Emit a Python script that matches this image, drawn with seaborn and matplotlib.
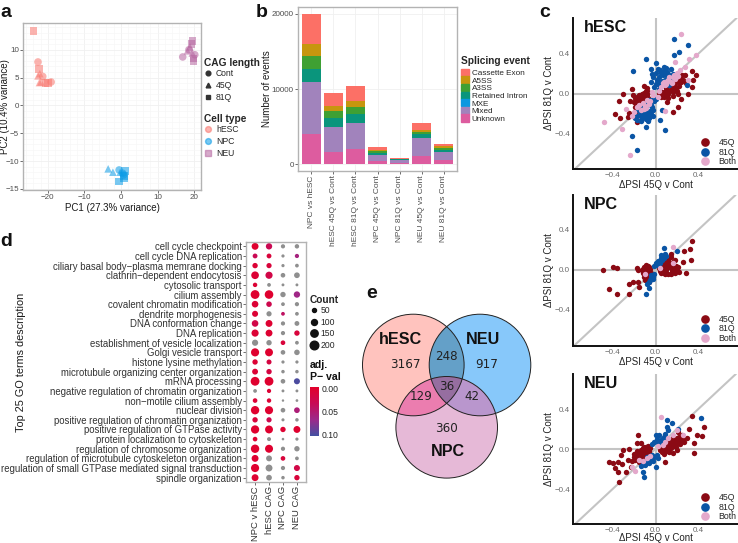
import matplotlib
matplotlib.use("Agg")
import matplotlib.pyplot as plt
from matplotlib.lines import Line2D
from matplotlib.patches import Patch, Circle
from matplotlib.colors import LinearSegmentedColormap, Normalize
from matplotlib.cm import ScalarMappable
import numpy as np
import pandas as pd
import seaborn as sns

# panel a
pca_x = [-23.9, -22.7, -22.5, -21.4, -22.7, -22.3, -19.1, -19.9, -20.6, -21.9, -22.2,
         -3.5, -2.2, -0.5, 1.1, 0.9, -0.5, 0.5, 0.9, -0.2, 0.7,
         19.6, 16.9, 19.8, 20.2, 18.6, 19.3, 18.9, 19.5, 18.2, 19.9]
pca_y = [13.4, 7.8, 6.5, 5.2, 5.3, 4.1, 4.2, 4.0, 4.0, 4.2, 5.7,
         -11.4, -12.0, -11.6, -11.8, -12.7, -13.7, -12.2, -13.1, -12.0, -12.5,
         11.6, 8.7, 8.0, 9.1, 10.0, 11.0, 10.5, 9.4, 9.8, 8.4]
pca_cell = ["hESC"] * 11 + ["NPC"] * 10 + ["NEU"] * 10
pca_cag = ["81Q", "Cont", "81Q", "Cont", "45Q", "45Q", "Cont", "81Q", "81Q", "45Q", "45Q",
           "45Q", "45Q", "Cont", "81Q", "81Q", "81Q", "Cont", "81Q", "45Q", "Cont",
           "81Q", "Cont", "81Q", "Cont", "Cont", "81Q", "45Q", "45Q", "45Q", "81Q"]
cell_colors = {"hESC": "#F8766D", "NPC": "#0A9BE6", "NEU": "#B5649F"}
cag_markers = {"Cont": "o", "45Q": "^", "81Q": "s"}

# panel b
comparisons = ["NPC vs hESC", "hESC 45Q vs Cont", "hESC 81Q vs Cont", "NPC 45Q vs Cont",
               "NPC 81Q vs Cont", "NEU 45Q vs Cont", "NEU 81Q vs Cont"]
unknown = [3990, 1640, 2000, 400, 180, 1100, 620]
mixed = [6910, 3370, 3500, 890, 350, 2400, 1060]
mxe = [40, 20, 20, 8, 4, 15, 10]
retained = [1700, 1170, 1170, 252, 126, 475, 260]
a3ss = [1760, 930, 980, 220, 50, 350, 220]
a5ss = [1600, 670, 790, 130, 40, 260, 310]
cassette = [4000, 1680, 1950, 360, 90, 940, 180]
event_names = ["Cassette Exon", "A5SS", "A3SS", "Retained Intron", "MXE", "Mixed", "Unknown"]
event_values = [cassette, a5ss, a3ss, retained, mxe, mixed, unknown]
event_colors = ["#FC7066", "#C7960E", "#3FA033", "#0A957C", "#0A98E0", "#A183BC", "#DD5C9F"]

# panel d
go_terms = ["cell cycle checkpoint", "cell cycle DNA replication",
            "ciliary basal body\u2212plasma memrane docking", "clathrin\u2212dependent endocytosis",
            "cytosolic transport", "cilium assembly", "covalent chromatin modification",
            "dendrite morphogenesis", "DNA conformation change", "DNA replication",
            "establishment of vesicle localization", "Golgi vesicle transport",
            "histone lysine methylation", "microtubule organizing center organization",
            "mRNA processing", "negative regulation of chromatin organization",
            "non\u2212motile cilium assembly", "nuclear division",
            "positive regulation of chromatin organization", "positive regulation of GTPase activity",
            "protein localization to cytoskeleton", "regulation of chromosome organization",
            "regulation of microtubule cytoskeleton organization",
            "regulation of small GTPase mediated signal transduction", "spindle organization"]
go_groups = ["NPC v hESC", "hESC CAG", "NPC CAG", "NEU CAG"]
count_npc_hesc = [120, 55, 70, 150, 45, 200, 110, 90, 110, 130, 95, 170, 70, 85, 200, 30, 50, 180, 70, 175, 50, 180, 120, 170, 120]
count_hesc = [100, 55, 65, 130, 30, 190, 75, 65, 120, 120, 70, 160, 60, 70, 200, 40, 45, 170, 65, 160, 35, 165, 85, 120, 80]
count_npc = [40, 20, 20, 50, 15, 70, 30, 30, 40, 40, 50, 50, 20, 25, 50, 15, 8, 50, 18, 70, 10, 40, 50, 40, 25]
count_neu = [45, 40, 30, 80, 15, 100, 40, 30, 55, 70, 30, 75, 20, 25, 90, 15, 12, 80, 25, 120, 20, 70, 30, 90, 70]
# None means not significant, drawn grey
p_npc_hesc = [0.0, 0.03, 0.005, 0.005, 0.005, 0.0, 0.005, 0.005, 0.02, 0.005, None, 0.0, 0.005, 0.005, 0.0, None, 0.005, 0.0, 0.01, 0.0, 0.002, 0.0, 0.002, 0.0, 0.002]
p_hesc = [0.03, 0.01, 0.01, 0.02, None, 0.0, 0.025, None, 0.002, 0.002, None, 0.0, 0.015, 0.015, 0.0, 0.005, 0.005, 0.0, 0.025, 0.0, None, 0.0, None, None, None]
p_npc = [None, None, None, None, None, None, None, 0.04, None, None, 0.01, None, None, None, None, None, None, None, None, 0.002, None, None, 0.01, None, None]
p_neu = [None, 0.06, None, None, None, 0.065, None, None, None, 0.01, None, None, None, None, 0.1, None, None, 0.055, None, 0.0, None, None, None, 0.02, 0.01]

# panel e
venn_names = ["hESC", "NEU", "NPC"]
venn_colors = ["#FFC3BE", "#87C8FA", "#E6B9D7"]
venn_counts = [3167, 917, 360, 248, 129, 42, 36]
overlap_colors = {"hESC_NEU": "#64A0C8", "hESC_NPC": "#EB7DAF", "NEU_NPC": "#B996CD", "all": "#966EA0"}

# panel c
hesc_45_x = [-.30, -.34, -.375, -.335, -.22, -.21, -.235, -.245, -.26, -.14, -.17, -.105, -.08, -.20, -.19, -.18, -.17, -.16, -.15, -.14, -.13, -.12, -.11, -.10, -.09, -.08, -.07, -.19, -.17, -.15, -.13, -.11, -.09, -.07, -.16, -.14, -.12, -.10, -.08, -.18, -.15, -.12,
             .34, .375, .35, .34, .30, .21, .235, .21, .16, .105, .05, .245, .275, .06, .08, .10, .12, .14, .16, .18, .20, .22, .24, .07, .09, .11, .13, .15, .17, .19, .21, .23, .08, .10, .12, .14, .16, .18, .20, .03, .05, .26, .28]
hesc_45_y = [0, -.07, -.2, -.24, .05, -.01, -.07, -.19, -.23, -.26, -.28, .08, .06, -.08, -.04, -.10, -.03, -.12, -.02, -.09, 0, -.05, .01, -.03, .03, -.01, .02, -.13, -.07, -.05, -.08, -.10, -.06, -.04, -.15, -.13, -.03, -.13, -.09, -.17, -.01, -.16,
             .23, .19, .14, .07, 0, 0, -.05, -.13, -.18, -.08, -.03, .19, .19, .02, -.01, .03, 0, .05, .02, .07, .03, .08, .12, 0, .02, -.02, .03, .08, .10, .05, .12, .15, -.03, .06, -.04, .10, -.02, .12, .15, .01, -.01, .14, .11]
hesc_81_x = [.175, .30, .22, .17, -.087, 0, -.21, -.04, .295, .09, -.22, -.175, -.087, .04, .06,
             -.04, -.02, 0, .02, .04, .06, .08, .10, .12, .14, .16, .18, .03, .05, .07, .09, .11, .13, .15, -.01, .01, .03, .05, .07, .09, .11, .13, 0, .02, .04, .08, .12, -.03,
             -.01, -.03, -.05, -.07, -.09, -.11, -.13, -.15, -.17, -.19, -.02, -.04, -.06, -.08, -.10, -.12, -.14, -.16, -.03, -.05, -.07, -.09, -.11, 0, -.02, -.06, -.08, -.13, -.18, -.04]
hesc_81_y = [.55, .49, .42, .39, .35, .31, .23, .25, .09, -.36, -.42, -.56, -.33, -.26, -.16,
             .12, .17, .21, .10, .24, .13, .22, .26, .15, .25, .20, .17, .17, .09, .19, .14, .22, .12, .16, .07, .14, .05, .21, .10, .24, .18, .09, .10, .25, .12, .27, .20, .20,
             -.07, -.13, -.10, -.18, -.14, -.20, -.24, -.21, -.26, -.24, -.16, -.20, -.24, -.09, -.22, -.13, -.27, -.16, -.06, -.17, -.27, -.25, -.17, -.05, -.22, -.06, -.20, -.19, -.22, -.11]
hesc_both_x = [.24, .375, .315, -.48, -.31, -.235, -.28, .09, .18, .275, .23, .30, .05, .08, .10, .12, .14, .16, .18, .20, -.05, -.08, -.10, -.12, -.14, -.17, -.20, -.22, -.03, .02, .03, -.02,
               .11, .13, .15, .17, .19, .09, .07, .21, -.06, -.15, -.09, -.11]
hesc_both_y = [.60, .39, .35, -.28, -.35, -.61, -.15, -.17, .32, .27, .24, .14, .07, .12, .10, .14, .12, .17, .15, .21, -.07, -.06, -.12, -.09, -.16, -.13, -.18, -.22, .02, -.03, .03, -.01,
               .13, .17, .11, .19, .17, .09, .11, .18, -.10, -.11, -.14, -.15]

npc_45_x = [-.49, -.40, -.36, -.43, -.36, -.245, -.25, -.21, -.165, -.15, -.17, -.16, .34, .32, .27, .33, .255, .28, .22, .21, .18, .145,
            -.13, -.12, -.11, -.10, -.09, -.08, -.07, -.06, -.05, -.04, -.12, -.10, -.08, -.06, -.11, -.09, -.07, -.05, -.10, -.08, -.06, -.09, -.07,
            .03, .04, .05, .06, .07, .08, .09, .10, .11, .12, .13, .14, .15, .16, .17, .18, .19, .20, .05, .07, .09, .11, .13, .15, .17, .06, .08, .10, .12, .14, .16, .18]
npc_45_y = [0, .03, .02, -.19, -.24, -.24, -.14, -.12, -.12, -.17, .02, 0, .29, .21, .19, .10, .08, -.03, -.02, .03, .10, .16,
            0, -.03, .03, -.06, .05, -.09, .04, -.12, .01, -.03, .01, .02, -.04, -.08, -.07, -.01, -.10, -.05, -.10, .02, .03, -.06, -.02,
            .02, -.01, .04, 0, .08, -.03, .05, 0, .10, -.04, .03, .13, -.02, .05, .01, -.03, .04, 0, -.03, .02, -.04, .06, .07, 0, .03, .03, -.02, .02, .10, -.04, .08, .01]
npc_81_x = [.08, .2, .09, .05, .075, .03, 0, .01, .02, .04, .06, -.01, -.087, -.06, -.08, -.02, -.03, -.04, -.05, -.01, -.06, -.02, -.04, .05, .1]
npc_81_y = [.22, .19, .16, .15, .12, .08, .07, .05, .09, .07, .10, .04, -.24, -.18, -.14, -.07, -.06, -.08, -.10, -.04, -.12, -.09, -.05, .12, .14]
npc_both_x = [.16, .16, -.1, .04]
npc_both_y = [.23, .07, -.04, .02]

neu_45_x = [-.43, -.40, -.35, -.31, -.375, -.35, -.28, -.34, -.30, -.245, -.32, -.165, -.175, -.14, -.225, -.26, .09, .36, .34, .455, .39, .43, .355, .31, .26, .21,
            -.22, -.20, -.19, -.18, -.17, -.16, -.15, -.14, -.13, -.12, -.11, -.10, -.09, -.08, -.07, -.06, -.05, -.20, -.18, -.16, -.14, -.12, -.10, -.08, -.06, -.15, -.13, -.11, -.09, -.07, -.17, -.12,
            .04, .05, .06, .07, .08, .09, .10, .11, .12, .13, .14, .15, .16, .17, .18, .19, .20, .21, .22, .23, .24, .25, .27, .29, .06, .08, .10, .12, .14, .16, .18, .20, .22, .07, .09, .11, .13, .15, .17, .05]
neu_45_y = [-.13, -.14, -.13, -.15, -.19, -.23, -.23, -.33, -.01, 0, -.06, .14, .06, .06, -.18, -.11, -.13, -.04, .33, .22, .14, .13, .06, .2, .09, .17,
            -.12, -.05, -.11, -.08, -.02, -.06, -.13, -.03, -.09, .01, -.05, -.07, .02, -.03, .03, -.02, .01, -.08, -.10, -.04, -.01, -.08, -.03, .01, -.04, -.11, -.06, .02, -.06, -.01, -.09, -.10,
            -.01, .03, -.03, .02, -.05, .05, 0, .07, -.02, .06, .01, .09, -.04, .04, .08, .02, .11, .06, .12, .05, .10, .14, .07, .11, .01, .04, -.02, .03, .08, .12, .03, -.01, .08, -.01, .02, .09, -.03, .05, .06, .04]
neu_81_x = [.42, .11, .15, .11, .12, .21, .09, 0, .03, .08, .06, .04, .02, -.01, .03, .05, -.03, .01, -.105, -.12, 0, -.07, -.09, -.05, -.03, -.01, .01, -.02, -.04, -.06, -.08, -.10, -.12, -.14, .02]
neu_81_y = [.31, .29, .26, .22, .19, .20, .15, .14, .14, .12, .10, .08, .07, .07, .05, .06, .05, .10, -.28, -.23, -.18, -.10, -.14, -.07, -.06, -.08, -.06, -.12, -.10, -.14, -.08, -.16, -.13, -.17, -.09]
neu_both_x = [.05, -.19, -.22, .2, .26, .09, .07, .12, .16, -.05, -.08, -.12, -.15, .02]
neu_both_y = [.32, -.22, -.18, .19, .14, .07, .04, .11, .14, -.07, -.09, -.12, -.11, .03]

W, H = 738, 543
sns.set_theme(style="white")
plt.rcParams["font.family"] = ["Liberation Sans", "DejaVu Sans"]
plt.rcParams["axes.unicode_minus"] = True
fig = plt.figure(figsize=(W / 100, H / 100), dpi=100)
grey_txt = "#4d4d4d"
frame = "#b3b3b3"


def px_axes(l, t, r, b):
    return fig.add_axes([l / W, 1 - b / H, (r - l) / W, (b - t) / H])


def fx(px):
    return px / W


def fy(px):
    return 1 - px / H


def frame_axes(ax):
    for s in ax.spines.values():
        s.set_visible(True)
        s.set_color(frame)
        s.set_linewidth(1.0)
    ax.tick_params(left=True, bottom=True, length=2, width=0.6, color="#555555",
                   labelsize=5.8, labelcolor=grey_txt, pad=1)


def bw_grid(ax):
    ax.set_axisbelow(True)
    ax.grid(True, which="major", color="#f0f0f0", lw=0.6)
    ax.minorticks_on()
    ax.grid(True, which="minor", color="#f6f6f6", lw=0.4)
    ax.tick_params(which="minor", length=0)


def side_legend(handles, labels, title, x, y, sep=1, **kw):
    leg = fig.legend(handles, labels, title=title, loc="upper left",
                     bbox_to_anchor=(fx(x), fy(y)), frameon=False, alignment="left",
                     borderpad=0, borderaxespad=0, fontsize=kw.pop("fontsize", 6.2),
                     title_fontproperties={"weight": "bold", "size": 7.3}, **kw)
    leg._legend_box.sep = sep
    return leg


# a
ax_a = px_axes(23, 23, 201, 190)
pca = pd.DataFrame({"x": pca_x, "y": pca_y, "cell": pca_cell, "cag": pca_cag})
sns.scatterplot(data=pca, x="x", y="y", hue="cell", style="cag", palette=cell_colors,
                markers=cag_markers, s=30, alpha=0.55, linewidth=0, legend=False, ax=ax_a)
ax_a.set_xlim(-26.8, 21.9)
ax_a.set_ylim(-15.2, 14.8)
ax_a.set_xticks([-20, -10, 0, 10, 20])
ax_a.set_yticks([-15, -10, -5, 0, 5, 10])
frame_axes(ax_a)
bw_grid(ax_a)
ax_a.set_xlabel("PC1 (27.3% variance)", fontsize=7, color="#1a1a1a", labelpad=1)
ax_a.set_ylabel("PC2 (10.4% variance)", fontsize=7, color="#1a1a1a")
ax_a.yaxis.set_label_coords(-(23 - 10) / 178, 0.5)

cag_handles = [Line2D([], [], ls="", marker=cag_markers[k], color="#333333", ms=3.4) for k in cag_markers]
side_legend(cag_handles, list(cag_markers), "CAG length", 204, 58, handlelength=1, handletextpad=0.4, labelspacing=0.3)
cell_handles = [Line2D([], [], ls="", marker="s" if k == "NEU" else "o", color=cell_colors[k], alpha=0.55, ms=4.2) for k in cell_colors]
side_legend(cell_handles, list(cell_colors), "Cell type", 204, 114, handlelength=1, handletextpad=0.4, labelspacing=0.3)

# b
ax_b = px_axes(298, 7, 457, 171)
totals = [0] * len(comparisons)
stacks = []
for vals in event_values[::-1]:
    totals = [t + v for t, v in zip(totals, vals)]
    stacks.append(totals)
# tallest cumulative first so the shorter ones sit in front
for cum, col in zip(stacks[::-1], event_colors):
    sns.barplot(x=comparisons, y=cum, color=col, width=0.88, saturation=1, linewidth=0, ax=ax_b, zorder=3)
ax_b.set_xlim(-0.6, 6.6)
ax_b.set_ylim(-890, 20930)
ax_b.set_yticks([0, 10000, 20000])
frame_axes(ax_b)
ax_b.set_axisbelow(True)
ax_b.grid(True, color="#f0f0f0", lw=0.6)
ax_b.tick_params(axis="x", rotation=90, labelsize=6)
ax_b.set_xlabel("")
ax_b.set_ylabel("Number of events", fontsize=7, color="#1a1a1a")
ax_b.yaxis.set_label_coords((272 - 298) / 159, 0.5)
side_legend([Patch(color=c) for c in event_colors], event_names, "Splicing event", 461, 56, sep=2,
            fontsize=5.9, handlelength=0.95, handleheight=0.95, handletextpad=0.35, labelspacing=-0.09)

# d
ax_d = px_axes(246, 242, 306, 482)
go = pd.DataFrame({"term": go_terms * 4,
                   "group": [g for g in go_groups for _ in go_terms],
                   "count": count_npc_hesc + count_hesc + count_npc + count_neu,
                   "padj": p_npc_hesc + p_hesc + p_npc + p_neu}, dtype=object)
go["count"] = go["count"].astype(float)
go["padj"] = go["padj"].astype(float)
go["ypos"] = go["term"].map({t: i for i, t in enumerate(go_terms)})
go["xpos"] = go["group"].map({g: i for i, g in enumerate(go_groups)})
p_colors = ["#E2002B", "#C80A55", "#9C2A8A", "#4350A2"]
p_cmap = LinearSegmentedColormap.from_list("padj", p_colors)
p_norm = Normalize(-0.004, 0.104)
size_range = (2.5, 42)
count_norm = (5, 210)
sns.scatterplot(data=go[go["padj"].isna()], x="xpos", y="ypos", color="#8f8f8f", size="count",
                sizes=size_range, size_norm=count_norm, linewidth=0, legend=False, ax=ax_d)
sns.scatterplot(data=go[go["padj"].notna()], x="xpos", y="ypos", hue="padj", palette=p_cmap, hue_norm=p_norm,
                size="count", sizes=size_range, size_norm=count_norm, linewidth=0, legend=False, ax=ax_d)
ax_d.set_xlim(-0.65, 3.65)
ax_d.set_ylim(24.45, -0.45)
ax_d.set_xticks(range(4), go_groups, rotation=90)
ax_d.set_yticks(range(25), go_terms)
frame_axes(ax_d)
ax_d.tick_params(axis="y", labelsize=6.9, labelcolor="#333333")
ax_d.tick_params(axis="x", labelsize=6.8, labelcolor="#333333")
ax_d.set_xlabel("")
ax_d.set_ylabel("")
fig.text(fx(21), fy(362), "Top 25 GO terms description", rotation=90, fontsize=7.8, color="#1a1a1a", ha="center", va="center")

count_labels = [50, 100, 150, 200]
count_ms = [2.9, 4.3, 5.3, 6.2]
side_legend([Line2D([], [], ls="", marker="o", color="#111111", ms=m) for m in count_ms],
            [str(c) for c in count_labels], "Count", 310, 295, handlelength=0.9, handletextpad=0.3, labelspacing=0.28)
fig.text(fx(310), fy(371), "adj.\nP\u2212 val", fontsize=7.6, fontweight="bold", ha="left", va="center", color="#111111", linespacing=1.25)
cax = px_axes(310, 387, 319, 436)
cbar = fig.colorbar(ScalarMappable(norm=p_norm, cmap=p_cmap), cax=cax)
cbar.set_ticks([0.0, 0.05, 0.1], labels=["0.00", "0.05", "0.10"])
cbar.outline.set_visible(False)
cax.invert_yaxis()
cax.tick_params(length=0, labelsize=6.2, pad=2, labelcolor="#222222")

# e
ax_e = px_axes(355, 305, 535, 485)
venn_cx = [58.3, 125, 91.7]
venn_cy = [60, 60, 122.3]
venn_r = 50.8
ax_e.set_xlim(0, 180)
ax_e.set_ylim(180, 0)
ax_e.axis("off")
venn_circles = {}
for name, cx, cy, col in zip(venn_names, venn_cx, venn_cy, venn_colors):
    venn_circles[name] = Circle((cx, cy), venn_r, facecolor=col, edgecolor="none")
    ax_e.add_patch(venn_circles[name])
for pair, col in overlap_colors.items():
    if pair == "all":
        continue
    first, second = pair.split("_")
    i = venn_names.index(first)
    lens = Circle((venn_cx[i], venn_cy[i]), venn_r, facecolor=col, edgecolor="none")
    ax_e.add_patch(lens)
    lens.set_clip_path(venn_circles[second])
# centre region: arcs of each circle that lie inside the other two
theta = np.linspace(0, 2 * np.pi, 1440)
cxs, cys = np.array(venn_cx), np.array(venn_cy)
arc_x, arc_y = [], []
for i in range(3):
    px = cxs[i] + venn_r * np.cos(theta)
    py = cys[i] + venn_r * np.sin(theta)
    keep = np.ones_like(px, dtype=bool)
    for j in range(3):
        if j != i:
            keep &= (px - cxs[j]) ** 2 + (py - cys[j]) ** 2 <= venn_r ** 2
    arc_x.append(px[keep])
    arc_y.append(py[keep])
arc_x, arc_y = np.concatenate(arc_x), np.concatenate(arc_y)
order = np.argsort(np.arctan2(arc_y - arc_y.mean(), arc_x - arc_x.mean()))
ax_e.fill(arc_x[order], arc_y[order], color=overlap_colors["all"], lw=0)
for cx, cy in zip(venn_cx, venn_cy):
    ax_e.add_patch(Circle((cx, cy), venn_r, facecolor="none", edgecolor="#222222", lw=0.7))
venn_name_x = [45.7, 128.3, 93.3]
venn_name_y = [35, 35, 146.7]
for name, tx, ty in zip(venn_names, venn_name_x, venn_name_y):
    ax_e.text(tx, ty, name, fontsize=11.6, fontweight="bold", ha="center", va="center", color="#111111")
venn_count_x = [50.7, 131.7, 91.7, 91.7, 66, 116.7, 91.7]
venn_count_y = [60, 60, 123.3, 51, 91.7, 91.7, 81.7]
for n, tx, ty in zip(venn_counts, venn_count_x, venn_count_y):
    ax_e.text(tx, ty, str(n), fontsize=8.6, ha="center", va="center", color="#222222", family="DejaVu Sans")

# c
scatter_colors = {"45Q": "#8B0A14", "81Q": "#0A55A5", "Both": "#E4A8CB"}
panels = [("hESC", 18, 169, 93.7, hesc_45_x, hesc_45_y, hesc_81_x, hesc_81_y, hesc_both_x, hesc_both_y),
          ("NPC", 195, 345.7, 269.7, npc_45_x, npc_45_y, npc_81_x, npc_81_y, npc_both_x, npc_both_y),
          ("NEU", 374, 524, 449, neu_45_x, neu_45_y, neu_81_x, neu_81_y, neu_both_x, neu_both_y)]
for name, top, bottom, y0, x45, y45, x81, y81, xb, yb in panels:
    ax = px_axes(573, top, 738, bottom)
    ax.set_xlim(-0.77, 0.77)
    ax.set_ylim((y0 - bottom) / 100, (y0 - top) / 100)
    for f in (ax.axhline, ax.axvline):
        f(0, color="#c4c4c4", lw=1.5, zorder=1)
    ax.axline((0, 0), slope=1, color="#c4c4c4", lw=1.5, zorder=1)
    for key, xs, ys in (("45Q", x45, y45), ("81Q", x81, y81), ("Both", xb, yb)):
        sns.scatterplot(x=xs, y=ys, color=scatter_colors[key], s=15, linewidth=0, ax=ax, zorder=3)
    sns.despine(ax=ax)
    ax.spines["left"].set_linewidth(1.4)
    ax.spines["bottom"].set_linewidth(1.4)
    ax.spines["left"].set_color("#111111")
    ax.spines["bottom"].set_color("#111111")
    ax.set_xticks([-0.4, 0, 0.4], ["\u22120.4", "0.0", "0.4"])
    ax.set_yticks([-0.4, 0, 0.4], ["\u22120.4", "0.0", "0.4"])
    ax.tick_params(length=0, labelsize=5.8, labelcolor="#6a6a6a", pad=2.2)
    ax.set_xlabel("\u0394PSI 45Q v Cont", fontsize=7, color="#222222", labelpad=-1 if name == "NEU" else 0.6)
    ax.set_ylabel("\u0394PSI 81Q v Cont", fontsize=7, color="#222222", labelpad=0)
    fig.text(fx(584), fy(top + 9.5), name, fontsize=11.6, fontweight="bold", color="#111111", ha="left", va="center")
    handles = [Line2D([], [], ls="", marker="o", color=scatter_colors[k], ms=5.2) for k in scatter_colors]
    fig.legend(handles, list(scatter_colors), loc="lower left",
               bbox_to_anchor=(fx(701), fy(bottom - 3)), frameon=False, fontsize=6.3,
               borderpad=0, borderaxespad=0, handlelength=1, handletextpad=1.0, labelspacing=0.05)

for letter, lx, ly in (("a", 0, 17), ("b", 256, 17), ("c", 539, 17), ("d", 0, 246), ("e", 366, 298)):
    fig.text(fx(lx), fy(ly), letter, fontsize=14, fontweight="bold", color="#111111", ha="left", va="baseline")

fig.savefig("out.png", dpi=100, facecolor="white")
